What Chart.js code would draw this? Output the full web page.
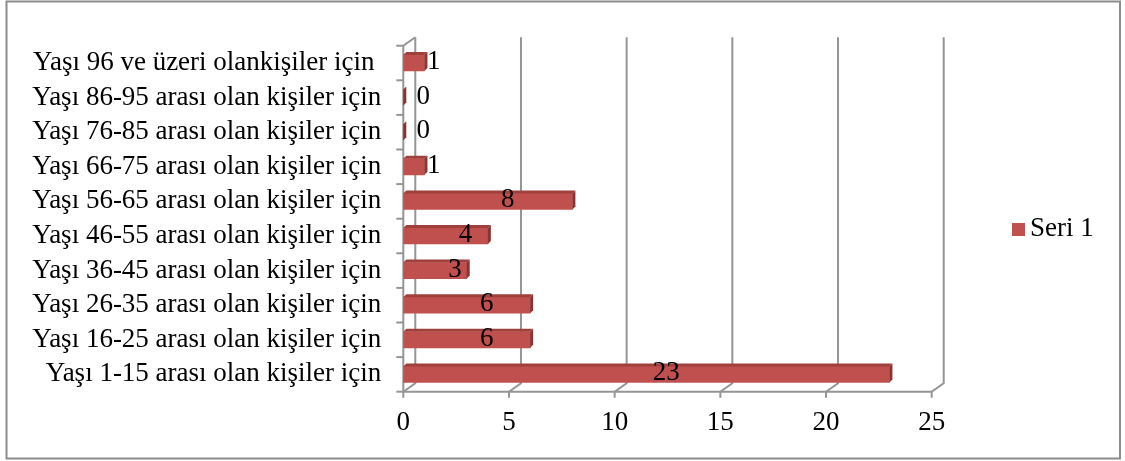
<!DOCTYPE html>
<html><head><meta charset="utf-8">
<script src="https://cdn.jsdelivr.net/npm/chart.js@4"></script>
<style>html,body{margin:0;padding:0;background:#fff;} canvas{display:block}</style>
</head><body>
<canvas id="c" width="1125" height="461"></canvas>
<script>
const categories = [
  "Yaşı 96 ve üzeri olankişiler için ",
  "Yaşı 86-95 arası olan kişiler için",
  "Yaşı 76-85 arası olan kişiler için",
  "Yaşı 66-75 arası olan kişiler için",
  "Yaşı 56-65 arası olan kişiler için",
  "Yaşı 46-55 arası olan kişiler için",
  "Yaşı 36-45 arası olan kişiler için",
  "Yaşı 26-35 arası olan kişiler için",
  "Yaşı 16-25 arası olan kişiler için",
  "Yaşı 1-15 arası olan kişiler için"
];
const seriesName = "Seri 1";
const values = [1, 0, 0, 1, 8, 4, 3, 6, 6, 23];
const xTickValues = [0, 5, 10, 15, 20, 25];

const FONT = "'Liberation Serif', 'Times New Roman', serif";
const FSIZE = 27;
const BAR = '#C0504D';
const GRID = '#959595';

const frame3d = {
  id: 'frame3d',
  beforeDraw(chart) {
    const ctx = chart.ctx;
    ctx.save();
    ctx.fillStyle = '#fff';
    ctx.fillRect(0, 0, chart.width, chart.height);
    ctx.strokeStyle = '#8c8c8c';
    ctx.lineWidth = 2;
    ctx.strokeRect(6.5, 1.5, 1113.5, 457);
    ctx.restore();
  },
  beforeDatasetsDraw(chart) {
    const ctx = chart.ctx, xs = chart.scales.x, ys = chart.scales.y, ca = chart.chartArea;
    const DX = 12, DY = 8.5;
    ctx.save();
    ctx.strokeStyle = GRID;
    ctx.lineWidth = 2;
    xTickValues.forEach(v => {
      const fx = xs.getPixelForValue(v), bx = fx + DX;
      ctx.beginPath();
      ctx.moveTo(bx, ca.top - DY);
      ctx.lineTo(bx, ca.bottom - DY);
      ctx.lineTo(fx, ca.bottom);
      ctx.lineTo(fx, ca.bottom + 6);
      ctx.stroke();
    });
    ctx.beginPath();
    ctx.moveTo(ca.left, ca.bottom);
    ctx.lineTo(ca.right, ca.bottom);
    ctx.stroke();
    ctx.beginPath();
    ctx.moveTo(ca.left + DX, ca.top - DY);
    ctx.lineTo(ca.left, ca.top);
    ctx.lineTo(ca.left, ca.bottom);
    ctx.stroke();
    const n = categories.length;
    const step = ys.getPixelForValue(1) - ys.getPixelForValue(0);
    for (let i = 0; i <= n; i++) {
      const y = ys.getPixelForValue(0) - step / 2 + i * step;
      ctx.beginPath();
      ctx.moveTo(ca.left - 7, y);
      ctx.lineTo(ca.left, y);
      ctx.stroke();
    }
    ctx.restore();
  },
  afterDatasetsDraw(chart) {
    const ctx = chart.ctx;
    const meta = chart.getDatasetMeta(0);
    const d = 3;
    ctx.save();
    meta.data.forEach((el, i) => {
      const x0 = el.base, x1 = el.x, yT = el.y - el.height / 2, yB = el.y + el.height / 2;
      ctx.fillStyle = '#a0403d';
      ctx.beginPath();
      ctx.moveTo(x0, yT); ctx.lineTo(x0 + d, yT - d); ctx.lineTo(x1 + d, yT - d); ctx.lineTo(x1, yT);
      ctx.closePath(); ctx.fill();
      ctx.fillStyle = '#8a3331';
      ctx.beginPath();
      ctx.moveTo(x1, yT); ctx.lineTo(x1 + d, yT - d); ctx.lineTo(x1 + d, yB - d); ctx.lineTo(x1, yB);
      ctx.closePath(); ctx.fill();
    });
    ctx.fillStyle = '#000';
    ctx.font = FSIZE + 'px ' + FONT;
    ctx.textAlign = 'center';
    ctx.textBaseline = 'middle';
    meta.data.forEach((el, i) => {
      const cx = (el.base + el.x) / 2 + 20;
      ctx.fillText(String(values[i]), cx, el.y - 1);
    });
    ctx.fillStyle = BAR;
    ctx.fillRect(1012, 223, 13, 13);
    ctx.fillStyle = '#000';
    ctx.textAlign = 'left';
    ctx.fillText(seriesName, 1030, 229);
    ctx.restore();
  }
};

new Chart(document.getElementById('c'), {
  type: 'bar',
  data: {
    labels: categories,
    datasets: [{
      label: seriesName,
      data: values,
      backgroundColor: BAR,
      borderWidth: 0,
      barThickness: 16
    }]
  },
  options: {
    indexAxis: 'y',
    responsive: false,
    animation: false,
    layout: { padding: { left: 0, right: 193.3, top: 45.7, bottom: 0 } },
    plugins: { legend: { display: false }, tooltip: { enabled: false } },
    scales: {
      x: {
        min: 0, max: 25,
        ticks: { stepSize: 5, padding: 15, color: '#000', font: { family: FONT, size: FSIZE } },
        grid: { display: false, drawTicks: false },
        border: { display: false },
        afterFit(s) { s.height = 69.3; }
      },
      y: {
        ticks: { autoSkip: false, padding: 22, color: '#000', font: { family: FONT, size: FSIZE, lineHeight: 1 } },
        grid: { display: false, drawTicks: false },
        border: { display: false },
        afterFit(s) { s.width = 403.3; }
      }
    }
  },
  plugins: [frame3d]
});
</script>
</body></html>
